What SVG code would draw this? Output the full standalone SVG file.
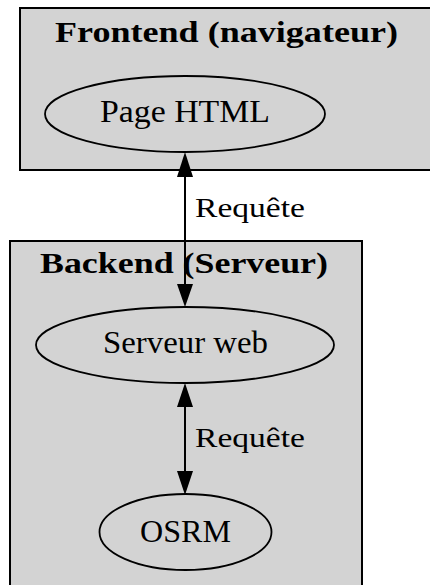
<svg xmlns="http://www.w3.org/2000/svg" width="430" height="585" viewBox="0 0 430 585">
<style>
.cluster{fill:#d3d3d3;stroke:#000;stroke-width:2}
.node{fill:#d3d3d3;stroke:#000;stroke-width:1.8}
.edge{stroke:#000;stroke-width:2;fill:none}
.head{fill:#000}
text{font-family:"Liberation Serif","DejaVu Serif",serif;fill:#000}
.title{font-weight:bold;font-size:30px}
.lbl{font-size:31px}
.elbl{font-size:27px}
</style>
<rect width="430" height="585" fill="#fff"/>
<g id="cluster_frontend">
<rect class="cluster" x="20" y="8" width="420" height="162"/>
<text class="title" x="55" y="42" textLength="343" lengthAdjust="spacingAndGlyphs">Frontend (navigateur)</text>
</g>
<g id="cluster_backend">
<rect class="cluster" x="10" y="241" width="352" height="360"/>
<text class="title" x="40" y="273" textLength="288" lengthAdjust="spacingAndGlyphs">Backend (Serveur)</text>
</g>
<g id="page_html">
<ellipse class="node" cx="185" cy="114" rx="140" ry="38"/>
<text class="lbl" x="100" y="122" textLength="170" lengthAdjust="spacingAndGlyphs">Page HTML</text>
</g>
<g id="serveur_web">
<ellipse class="node" cx="185" cy="345" rx="149" ry="38"/>
<text class="lbl" x="103" y="353" textLength="165" lengthAdjust="spacingAndGlyphs">Serveur web</text>
</g>
<g id="osrm">
<ellipse class="node" cx="185.5" cy="532" rx="86" ry="38"/>
<text class="lbl" x="140" y="542" textLength="91" lengthAdjust="spacingAndGlyphs">OSRM</text>
</g>
<g id="connectors">
<path class="edge" d="M185,177 L185,284"/>
<path class="head" d="M185,152 L193,177 L177,177 Z"/>
<path class="head" d="M185,307 L193,284 L177,284 Z"/>
<text class="elbl" x="195" y="217" textLength="110" lengthAdjust="spacingAndGlyphs">Requête</text>
<path class="edge" d="M185,407 L185,471"/>
<path class="head" d="M185,383 L193,407 L177,407 Z"/>
<path class="head" d="M185,495 L193,471 L177,471 Z"/>
<text class="elbl" x="195" y="447" textLength="110" lengthAdjust="spacingAndGlyphs">Requête</text>
</g>
</svg>
